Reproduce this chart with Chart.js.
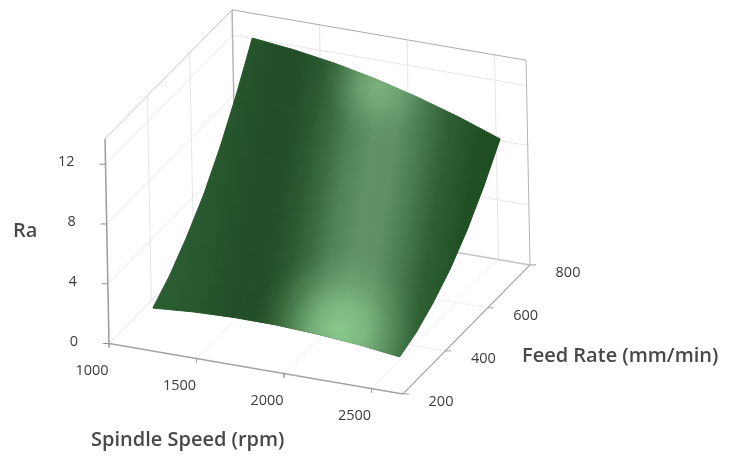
<!DOCTYPE html>
<html>
<head>
<meta charset="utf-8">
<style>
  html, body { margin: 0; padding: 0; background: #fff; }
  canvas { display: block; }
</style>
<script src="https://cdn.jsdelivr.net/npm/chart.js@4"></script>
</head>
<body>
<canvas id="SurfaceChart" width="735" height="457"></canvas>
<script>
// axis ticks
const spindleTicks = [1000, 1500, 2000, 2500];
const feedTicks = [200, 400, 600, 800];
const raTicks = [0, 4, 8, 12];

// extent of the 3d box
const spindleRange = [1000, 2680];
const feedRange = [200, 800];
const raRange = [0, 13.7];

// surface samples, one Ra row per feed rate
const spindleValues = [1150, 1385, 1620, 1855, 2090, 2325, 2560];
const feedValues = [285, 365, 445, 530, 610, 690, 770];
const raFeed285 = [1.45, 1.66, 1.75, 1.73, 1.59, 1.36, 1.01];
const raFeed365 = [2.46, 2.60, 2.62, 2.52, 2.29, 1.97, 1.52];
const raFeed445 = [3.81, 3.87, 3.81, 3.62, 3.31, 2.88, 2.34];
const raFeed530 = [5.50, 5.47, 5.32, 5.04, 4.63, 4.11, 3.46];
const raFeed610 = [7.51, 7.40, 7.16, 6.78, 6.27, 5.64, 4.87];
const raFeed690 = [9.86, 9.66, 9.32, 8.84, 8.22, 7.47, 6.60];
const raFeed770 = [12.54, 12.24, 11.80, 11.21, 10.48, 9.62, 8.62];
const raRows = [raFeed285, raFeed365, raFeed445, raFeed530, raFeed610, raFeed690, raFeed770];

// text
const xTitle = "Spindle Speed (rpm)";
const yTitle = "Feed Rate (mm/min)";
const zTitle = "Ra";

// projection of (spindle, feed, Ra) on the page
function project(s, f, z) {
    let ds = s - spindleRange[0];
    let df = f - feedRange[0];
    return {
        x: 109 + 0.175 * ds + 0.2117 * df - 0.29 * z,
        y: 343.5 + 0.03 * ds - 0.215 * df - 14.94 * z
    };
}

function pathLine(points, color, width) {
    return {
        data: points,
        showLine: true,
        fill: false,
        borderColor: color,
        borderWidth: width,
        pointRadius: 0
    };
}

function line3d(a, b, color, width) {
    return pathLine([project(a[0], a[1], a[2]), project(b[0], b[1], b[2])], color, width);
}

function toPx(chart, p) {
    return { x: chart.scales.x.getPixelForValue(p.x), y: chart.scales.y.getPixelForValue(p.y) };
}

// main light band across the surface, continuous over all the cells
function bandGradient(context) {
    let chart = context.chart;
    if (!chart.chartArea) {
        return "transparent";
    }
    let g = chart.ctx.createLinearGradient(130, 215, 520, 276);
    g.addColorStop(0.00, "#2e6236");
    g.addColorStop(0.16, "#2a5b30");
    g.addColorStop(0.30, "#214e27");
    g.addColorStop(0.37, "#234f28");
    g.addColorStop(0.42, "#2b5a31");
    g.addColorStop(0.47, "#3c6d42");
    g.addColorStop(0.52, "#518359");
    g.addColorStop(0.575, "#5f9165");
    g.addColorStop(0.635, "#5e9064");
    g.addColorStop(0.69, "#4a7d50");
    g.addColorStop(0.76, "#2f6034");
    g.addColorStop(0.84, "#204f24");
    g.addColorStop(1.00, "#1e4d22");
    return g;
}

function surfacePoint(i, j) {
    return project(spindleValues[i], feedValues[j], raRows[j][i]);
}

function surfaceOutline() {
    let pts = [];
    let ni = spindleValues.length;
    let nj = feedValues.length;
    for (let i = 0; i < ni; i++) pts.push(surfacePoint(i, 0));
    for (let j = 1; j < nj; j++) pts.push(surfacePoint(ni - 1, j));
    for (let i = ni - 2; i >= 0; i--) pts.push(surfacePoint(i, nj - 1));
    for (let j = nj - 2; j > 0; j--) pts.push(surfacePoint(0, j));
    return pts;
}

// soft highlight clipped to the surface outline
function spotLayer(point, radius, rgb, alpha) {
    return {
        data: surfaceOutline(),
        showLine: true,
        fill: "shape",
        borderWidth: 0,
        borderColor: "transparent",
        pointRadius: 0,
        backgroundColor: function (context) {
            let chart = context.chart;
            if (!chart.chartArea) {
                return "transparent";
            }
            let c = toPx(chart, point);
            let g = chart.ctx.createRadialGradient(c.x, c.y, 0, c.x, c.y, radius);
            g.addColorStop(0, `rgba(${rgb},${alpha})`);
            g.addColorStop(0.3, `rgba(${rgb},${alpha * 0.72})`);
            g.addColorStop(0.6, `rgba(${rgb},${alpha * 0.28})`);
            g.addColorStop(0.85, `rgba(${rgb},${alpha * 0.06})`);
            g.addColorStop(1, `rgba(${rgb},0)`);
            return g;
        }
    };
}

function buildDatasets() {
    let sets = [];
    let [s0, s1] = spindleRange;
    let [f0, f1] = feedRange;
    let [z0, z1] = raRange;
    const grid = "#e6e6e6";
    const floorGrid = "#eeeeee";
    const frame = "#c4c4c4";
    const axis = "#a3a3a3";

    // wall and floor grid
    raTicks.slice(1).forEach(function (z) {
        sets.push(line3d([s0, f0, z], [s0, f1, z], grid, 1));
        sets.push(line3d([s0, f1, z], [s1, f1, z], grid, 1));
    });
    feedTicks.slice(1, 3).forEach(function (f) {
        sets.push(line3d([s0, f, z0], [s0, f, z1], grid, 1));
        sets.push(line3d([s0, f, z0], [s1, f, z0], floorGrid, 1));
    });
    spindleTicks.slice(1).forEach(function (s) {
        sets.push(line3d([s, f1, z0], [s, f1, z1], grid, 1));
        sets.push(line3d([s, f0, z0], [s, f1, z0], floorGrid, 1));
    });

    // box frame
    sets.push(line3d([s0, f0, z0], [s0, f1, z0], "#e0e0e0", 1));
    sets.push(line3d([s0, f1, z0], [s1, f1, z0], frame, 1.5));
    sets.push(line3d([s0, f0, z1], [s0, f1, z1], frame, 1));
    sets.push(line3d([s0, f1, z1], [s1, f1, z1], "#ababab", 1));
    sets.push(line3d([s0, f1, z0], [s0, f1, z1], "#b4b4b4", 1.5));
    sets.push(line3d([s1, f1, z0], [s1, f1, z1], "#b4b4b4", 1));

    // surface cells
    for (let j = 0; j < feedValues.length - 1; j++) {
        for (let i = 0; i < spindleValues.length - 1; i++) {
            sets.push({
                data: [surfacePoint(i, j), surfacePoint(i + 1, j), surfacePoint(i + 1, j + 1), surfacePoint(i, j + 1), surfacePoint(i, j)],
                showLine: true,
                fill: "shape",
                backgroundColor: bandGradient,
                borderColor: bandGradient,
                borderWidth: 1,
                pointRadius: 0
            });
        }
    }

    // highlights
    sets.push(spotLayer(project(2190, 300, 1.8), 85, "155,222,155", 0.72));
    sets.push(spotLayer(project(1880, 755, 11), 55, "150,210,150", 0.5));

    // axes in front
    sets.push(line3d([s0, f0, z0], [s0, f0, z1], "#9c9c9c", 1.5));
    sets.push(line3d([s0, f0, z0], [s1, f0, z0], axis, 1.5));
    sets.push(line3d([s1, f0, z0], [s1, f1, z0], axis, 1.2));

    // tick marks
    raTicks.forEach(function (z) {
        let p = project(s0, f0, z);
        sets.push(pathLine([{ x: p.x - 6, y: p.y }, p], "#8c8c8c", 1));
    });
    spindleTicks.forEach(function (s) {
        let p = project(s, f0, z0);
        sets.push(pathLine([p, { x: p.x, y: p.y + 4 }], "#a0a0a0", 1));
    });
    feedTicks.forEach(function (f) {
        let p = project(s1, f, z0);
        sets.push(pathLine([p, { x: p.x + 6, y: p.y }], "#a0a0a0", 1));
    });

    return sets.reverse(); // chart.js paints the last dataset first
}

// tick labels and axis titles sit along the projected axes
const labelPlugin = {
    id: "labelPlugin",
    afterDatasetsDraw: function (chart) {
        let ctx = chart.ctx;
        ctx.save();
        ctx.textBaseline = "middle";
        ctx.fillStyle = "#3c3c3c";
        ctx.font = "14.5px 'Open Sans'";
        ctx.textAlign = "center";
        spindleTicks.forEach(function (s) {
            let p = toPx(chart, project(s, feedRange[0], 0));
            ctx.fillText(String(s), p.x - 17, p.y + 27);
        });
        feedTicks.forEach(function (f) {
            let p = toPx(chart, project(spindleRange[1], f, 0));
            ctx.fillText(String(f), p.x + 38, p.y + 8);
        });
        ctx.textAlign = "right";
        raTicks.forEach(function (z) {
            let p = toPx(chart, project(spindleRange[0], feedRange[0], z));
            ctx.fillText(String(z), p.x - 31, p.y - 2);
        });
        ctx.fillStyle = "#484848";
        ctx.font = "600 20px 'Open Sans'";
        ctx.textAlign = "left";
        ctx.fillText(xTitle, 91, 440);
        ctx.fillText(yTitle, 522, 356);
        ctx.fillText(zTitle, 13, 231);
        ctx.restore();
    }
};

new Chart(document.getElementById("SurfaceChart"), {
    type: "scatter",
    data: { datasets: buildDatasets() },
    options: {
        responsive: false,
        animation: false,
        events: [],
        layout: { padding: 0 },
        plugins: {
            legend: { display: false },
            tooltip: { enabled: false }
        },
        scales: {
            x: { type: "linear", display: false, min: 0, max: 735 },
            y: { type: "linear", display: false, min: 0, max: 457, reverse: true }
        }
    },
    plugins: [labelPlugin]
});
</script>
</body>
</html>
